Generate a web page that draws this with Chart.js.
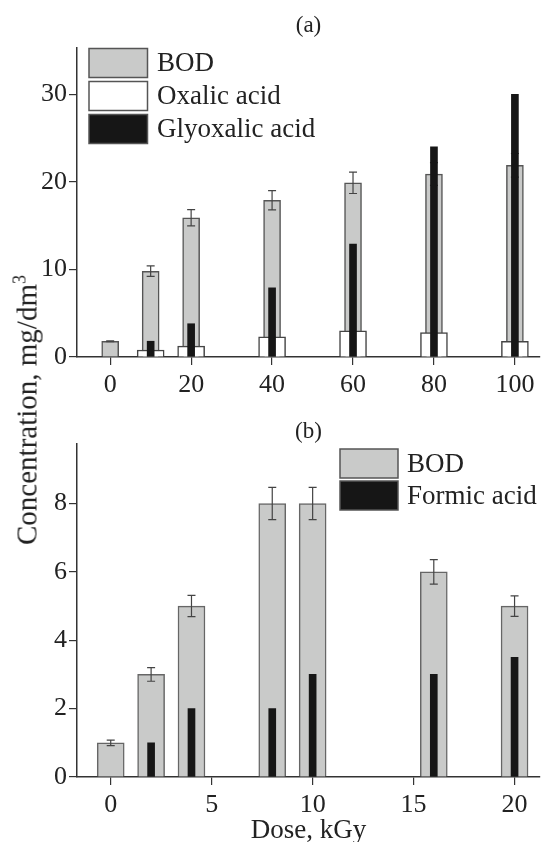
<!DOCTYPE html>
<html>
<head>
<meta charset="utf-8">
<script src="https://cdn.jsdelivr.net/npm/chart.js@4.4.0/dist/chart.umd.min.js"></script>
<style>
  body { margin: 0; background: #fff; }
  #wrap { position: relative; width: 541px; height: 842px; }
  #boxA { position: absolute; left: 0; top: 0; width: 541px; height: 400px; }
  #boxB { position: absolute; left: 0; top: 400px; width: 541px; height: 442px; }
  #ytitle {
    position: absolute; left: 27px; top: 410px;
    transform: translate(-50%, -50%) rotate(-90deg);
    font-family: "Liberation Serif", serif; font-size: 29px; color: #222;
    white-space: nowrap;
  }
  #ytitle sup { font-size: 18px; vertical-align: 0.6em; line-height: 0; }
</style>
</head>
<body>
<div id="wrap">
  <div id="boxA"><canvas id="chartA" width="541" height="400"></canvas></div>
  <div id="boxB"><canvas id="chartB" width="541" height="442"></canvas></div>
  <div id="ytitle">Concentration, mg/dm<sup>3</sup></div>
</div>
<script>
// panel (a)
var doseA = [0, 10, 20, 40, 60, 80, 100];
var bodA = [1.8, 9.8, 15.9, 17.9, 19.9, 20.9, 21.9];
var bodErrA = [0.05, 0.6, 0.93, 1.1, 1.22, 1.3, 1.35];
var oxalicA = [null, 0.8, 1.25, 2.3, 3.0, 2.8, 1.8];
var glyoxalicA = [null, 1.8, 3.8, 7.9, 12.9, 24, 30];
var xTicksA = [0, 20, 40, 60, 80, 100];
var yTicksA = [0, 10, 20, 30];

// panel (b)
var doseB = [0, 2, 4, 8, 10, 16, 20];
var bodB = [1, 3, 5, 8, 8, 6, 5];
var bodErrB = [0.08, 0.2, 0.31, 0.47, 0.47, 0.36, 0.3];
var formicB = [null, 1, 2, 2, 3, 3, 3.5];
var xTicksB = [0, 5, 10, 15, 20];
var yTicksB = [0, 2, 4, 6, 8];

var FONT = "'Liberation Serif', serif";
var GRAY = '#c9cac9';
var BLACK = '#161616';
var AXIS = '#333';

function pts(xs, ys) {
  var out = [];
  for (var i = 0; i < xs.length; ++i) {
    if (ys[i] !== null) out.push({x: xs[i], y: ys[i]});
  }
  return out;
}

// error bars for one dataset, drawn right after that dataset
var errorBars = {
  id: 'errorBars',
  afterDatasetDraw: function (chart, args, opts) {
    if (args.index !== opts.datasetIndex) return;
    var ctx = chart.ctx, xs = chart.scales.x, ys = chart.scales.y;
    ctx.save();
    ctx.strokeStyle = '#444';
    ctx.lineWidth = 1.2;
    for (var i = 0; i < opts.x.length; ++i) {
      var px = xs.getPixelForValue(opts.x[i]);
      var top = ys.getPixelForValue(opts.y[i] + opts.err[i]);
      var bot = ys.getPixelForValue(opts.y[i] - opts.err[i]);
      ctx.beginPath();
      ctx.moveTo(px, top); ctx.lineTo(px, bot);
      ctx.moveTo(px - 4, top); ctx.lineTo(px + 4, top);
      ctx.moveTo(px - 4, bot); ctx.lineTo(px + 4, bot);
      ctx.stroke();
    }
    ctx.restore();
  }
};

// stacked legend with big boxes, inside the plot
var boxLegend = {
  id: 'boxLegend',
  afterDraw: function (chart, args, opts) {
    var ctx = chart.ctx;
    ctx.save();
    ctx.font = '27px ' + FONT;
    ctx.textBaseline = 'middle';
    var sets = chart.data.datasets;
    for (var i = 0; i < sets.length; ++i) {
      var y = opts.y + i * opts.gap;
      ctx.fillStyle = sets[i].backgroundColor;
      ctx.fillRect(opts.x, y, opts.w, opts.h);
      ctx.strokeStyle = '#555';
      ctx.lineWidth = 1.5;
      ctx.strokeRect(opts.x, y, opts.w, opts.h);
      ctx.fillStyle = '#222';
      ctx.fillText(sets[i].label, opts.textX, y + opts.h / 2 + 1);
    }
    ctx.restore();
  }
};

var panelLabel = {
  id: 'panelLabel',
  afterDraw: function (chart, args, opts) {
    var ctx = chart.ctx, a = chart.chartArea;
    ctx.save();
    ctx.font = '23px ' + FONT;
    ctx.fillStyle = '#222';
    ctx.textAlign = 'center';
    ctx.fillText(opts.text, (a.left + a.right) / 2, opts.y);
    ctx.restore();
  }
};

function xScale(min, max, ticks, title) {
  return {
    type: 'linear', min: min, max: max, offset: false,
    grid: {offset: false, drawOnChartArea: false, drawTicks: true, tickLength: 8, color: AXIS, lineWidth: 1.2},
    border: {display: true, color: AXIS, width: 1.5},
    ticks: {font: {family: FONT, size: 26}, color: '#222', padding: 5, maxRotation: 0, autoSkip: false},
    afterBuildTicks: function (s) { s.ticks = ticks.map(function (v) { return {value: v}; }); },
    title: title ? {display: true, text: title, font: {family: FONT, size: 27}, color: '#222', padding: {top: 0, bottom: -5}} : {display: false}
  };
}

function yScale(min, max, ticks) {
  return {
    type: 'linear', min: min, max: max,
    grid: {drawOnChartArea: false, drawTicks: true, tickLength: 8, color: AXIS, lineWidth: 1.2},
    border: {display: true, color: AXIS, width: 1.5},
    ticks: {font: {family: FONT, size: 26}, color: '#222', padding: 2},
    afterBuildTicks: function (s) { s.ticks = ticks.map(function (v) { return {value: v}; }); },
    afterFit: function (s) { s.width = 77; }
  };
}

var chartA = new Chart(document.getElementById('chartA'), {
  type: 'bar',
  data: {
    datasets: [{
      label: 'BOD', data: pts(doseA, bodA), order: 3, grouped: false,
      backgroundColor: GRAY, borderColor: '#555', borderWidth: 1.5, barThickness: 17
    }, {
      label: 'Oxalic acid', data: pts(doseA, oxalicA), order: 2, grouped: false,
      backgroundColor: '#fff', borderColor: '#444', borderWidth: 1.5, barThickness: 27
    }, {
      label: 'Glyoxalic acid', data: pts(doseA, glyoxalicA), order: 1, grouped: false,
      backgroundColor: BLACK, borderWidth: 0, barThickness: 7
    }]
  },
  options: {
    responsive: false, animation: false,
    layout: {padding: {top: 48, right: 1, left: 0, bottom: 0}},
    scales: {
      x: Object.assign(xScale(-8.2, 106.2, xTicksA, null), {afterFit: function (s) { s.height = 43; }}),
      y: yScale(0, 35.3, yTicksA)
    },
    plugins: {
      legend: {display: false}, tooltip: {enabled: false},
      errorBars: {datasetIndex: 0, x: doseA, y: bodA, err: bodErrA},
      boxLegend: {x: 89, y: 48.5, w: 58.5, h: 29, gap: 33, textX: 157},
      panelLabel: {text: '(a)', y: 32}
    }
  },
  plugins: [errorBars, boxLegend, panelLabel]
});

var chartB = new Chart(document.getElementById('chartB'), {
  type: 'bar',
  data: {
    datasets: [{
      label: 'BOD', data: pts(doseB, bodB), order: 2, grouped: false,
      backgroundColor: GRAY, borderColor: '#666', borderWidth: 1.5, barThickness: 27
    }, {
      label: 'Formic acid', data: pts(doseB, formicB), order: 1, grouped: false,
      backgroundColor: BLACK, borderWidth: 0, barThickness: 7
    }]
  },
  options: {
    responsive: false, animation: false,
    layout: {padding: {top: 43.3, right: 1, left: 0, bottom: 0}},
    scales: {
      x: Object.assign(xScale(-1.67, 21.26, xTicksB, 'Dose, kGy'), {afterFit: function (s) { s.height = 65; }}),
      y: yScale(0, 9.76, yTicksB)
    },
    plugins: {
      legend: {display: false}, tooltip: {enabled: false},
      errorBars: {datasetIndex: 0, x: doseB, y: bodB, err: bodErrB},
      boxLegend: {x: 340, y: 49, w: 58, h: 29, gap: 32, textX: 407},
      panelLabel: {text: '(b)', y: 38}
    }
  },
  plugins: [errorBars, boxLegend, panelLabel]
});
</script>
</body>
</html>
